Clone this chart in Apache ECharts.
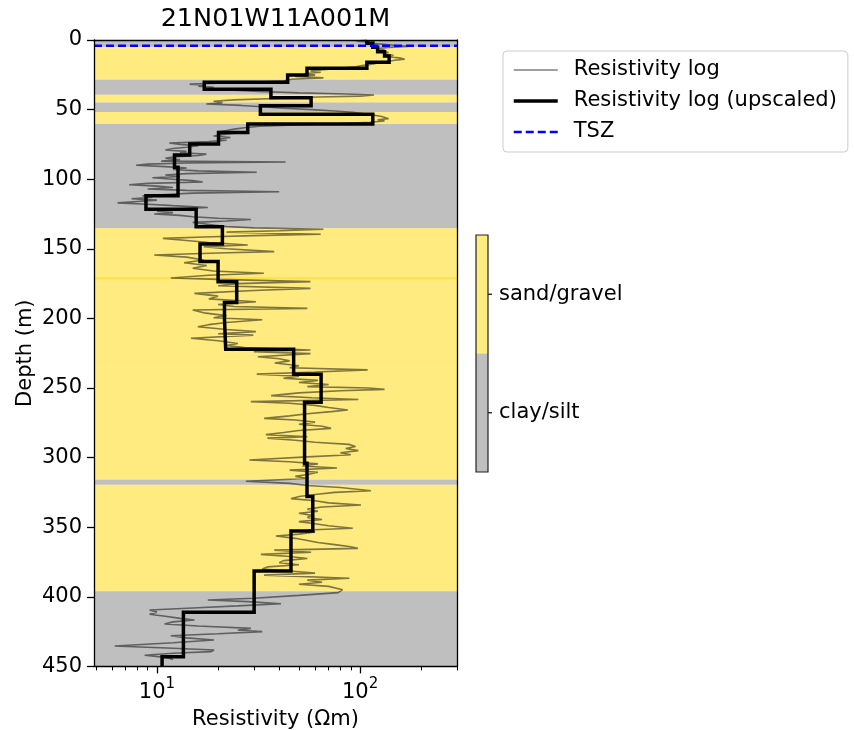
<!DOCTYPE html>
<html>
<head>
<meta charset="utf-8">
<script src="https://cdn.jsdelivr.net/npm/echarts@6/dist/echarts.min.js"></script>
<style>
  html, body { margin: 0; padding: 0; background: #fff; }
  #chart { width: 854px; height: 730px; }
</style>
</head>
<body>
<div id="chart"></div>
<script>
// Well identifier
const wellName = '21N01W11A001M';

// Resistivity axis range (Ωm) and depth range (m)
const resMin = 4.9;
const resMax = 300;
const depthMax = 450;

// Top of the shallow zone (m)
const tszDepth = 4.1;

// Lithology intervals: top (m), bottom (m), class
const litTop    = [0, 5, 28.6, 39.3, 44.9, 51.7, 60.4, 135.2, 139.5, 170.5, 231.0, 316.0, 319.5, 396.0];
const litBottom = [5, 28.6, 39.3, 44.9, 51.7, 60.4, 135.2, 139.7, 171.9, 231.2, 316.0, 319.5, 396.0, 450];
const litClass  = ['clay/silt', 'sand/gravel', 'clay/silt', 'sand/gravel', 'clay/silt', 'sand/gravel', 'clay/silt',
                   'sand/gravel', 'sand/gravel', 'sand/gravel', 'sand/gravel', 'clay/silt', 'sand/gravel', 'clay/silt'];
const litNames  = ['sand/gravel', 'clay/silt'];

// Raw resistivity log: [depth (m), resistivity (Ωm)]
const rawLog = [
  [0,108],[0.8,96],[1.6,118],[2.4,112],[3.2,135],[4.0,150],[4.6,172],[5.4,138],[6.2,120],[7.0,132],
  [8.0,126],[9.0,138],[10.0,130],[11.0,146],[12.0,140],[13.0,158],[13.8,166],[14.6,148],[15.4,136],[16.3,124],
  [17.2,116],[18.2,104],[19.2,95],[20.2,80],[21.2,68],[22.2,57],[23.2,64],[24.2,53],[25.2,60],[26.2,48],
  [27.2,66],[28.2,46],[29.4,42],[30.4,30],[31.1,20],[31.7,14.5],[32.4,17],[33.2,16],[34.0,19],[35.0,18],
  [36.0,24],[37.0,32],[38.0,50],[38.8,85],[39.5,117],[40.3,100],[41.0,62],[42.0,38],[43.0,24],[44.0,19],
  [45.0,21],[46.0,17.5],[47.0,26],[48.0,33],[49.0,42],[50.0,58],[51.0,75],[52.0,92],[53.0,105],[54.0,118],
  [55.0,128],[56.5,138],[57.3,122],[58.2,132],[59.1,112],[60.0,80],[61.0,48],[62.0,32],[63.0,27],[64.0,24],
  [65.0,22],[66.0,20],[67.0,24],[68.0,21],[69.0,19],[70.0,23],[71.0,20],[72.0,22],[73.0,18],[74.0,11.5],
  [75.0,13],[76.0,16],[77.0,14],[78.0,12],[79.0,11],[80.0,14],[81.0,13],[82.0,17.5],[83.0,16],[84.0,12],
  [85.0,11],[86.0,13],[87.0,10.5],[87.6,43],[88.4,14],[89.2,9],[90.0,7.9],[91.0,11],[92.0,14],[93.0,12],
  [94.0,16],[95.0,31],[96.0,14],[97.0,11],[98.0,13],[99.0,9.5],[100.0,12],[101.0,15],[102.0,16.8],[103.0,9],
  [104.0,7.3],[105.0,10],[106.0,12],[107.0,9],[108.0,14],[109.0,40],[110.0,15],[111.0,11],[112.0,8.5],[113.0,9.5],
  [114.0,7.5],[115.0,10],[116.0,8],[117.0,6.4],[118.0,9],[119.0,12],[120.3,17.8],[121.2,13],[122.0,11],[123.0,10],
  [124.0,12],[125.0,9.7],[126.0,13],[127.0,15],[128.0,20],[129.0,29],[130.0,22],[131.0,15],[132.0,17],[133.0,19],
  [134.0,22],[135.0,30],[136.0,66],[137.0,40],[138.0,22],[139.5,64],[140.5,30],[141.5,17],[142.5,10.7],[144.0,14],
  [145.5,18],[147.3,28],[148.5,17],[150.0,22],[152.0,37.8],[153.0,20],[154.5,9.7],[156.0,14],[158.0,17],[160.0,13.6],
  [162.0,17.6],[164.0,15],[166.0,19],[167.6,33.6],[169.0,18],[171.0,11.7],[172.0,20],[173.6,57],[175.0,25],[176.5,20],
  [178.4,57],[180.0,30],[182.0,15.3],[184.0,20],[186.0,18],[188.0,30.7],[190.0,20],[191.5,24],[192.8,55],[194.0,15],
  [196.0,17],[198.0,22],[199.5,19],[201.0,33],[203.0,22],[204.5,18],[206.0,15.9],[208.0,22],[209.5,30.7],[211.0,20],
  [212.0,29.8],[214.3,14.7],[216.0,20],[218.0,25],[219.5,22],[221.0,27],[222.7,57],[224.0,30],[225.3,57],[227.5,31.4],
  [229.0,40],[230.5,45],[232.0,38],[234.0,50],[235.5,45],[237.0,109],[238.5,60],[240.0,31],[241.5,50],[243.0,42],
  [244.5,62],[246.0,50],[247.5,70],[249.0,55],[250.0,110],[251.0,132],[252.0,80],[253.5,50],[255.5,36.5],[257.0,58],
  [258.3,98],[259.8,29],[261.0,45],[262.5,60],[264.0,70],[265.8,87],[267.0,72],[268.5,55],[270.0,45],[271.8,33.7],
  [273.0,48],[274.5,60],[276.0,50],[277.5,65],[279.0,72],[280.5,50],[282.0,42],[283.5,34.4],[285.0,55],[286.0,35],
  [287.5,48],[289.0,60],[290.5,88],[292.0,95],[293.5,85],[295.0,98],[296.5,80],[298.0,90],[299.5,55],[301.7,28.5],
  [303.0,45],[304.5,62],[306.0,52],[307.5,77],[309.0,45],[310.5,62],[312.0,56],[313.5,48],[315.0,55],[317.0,27.4],
  [318.5,45],[320.0,55],[321.5,80],[323.8,113],[325.0,75],[326.5,60],[328.0,50],[329.5,45.7],[331.0,60],[332.5,70],
  [334.0,101],[335.5,65],[337.0,55],[338.5,62],[340.0,50],[341.5,58],[343.0,55],[344.5,65],[346.0,50],[347.5,60],
  [349.0,70],[350.8,92],[352.0,55],[353.5,60],[355.0,50],[356.3,38.5],[358.0,48],[359.5,55],[361.0,62],[362.5,75],
  [364.0,90],[365.2,97.6],[366.5,37.8],[368.0,57.4],[369.5,32.5],[371.0,45],[372.5,55],[374.0,42],[375.5,40],[377.0,50],
  [378.5,35],[380.0,33],[381.5,45],[383.0,60],[384.4,33.7],[386.7,88.6],[388.0,55],[389.5,65],[391.0,50],[392.5,70],
  [395.0,82],[397.0,78],[399.0,50],[401.0,30],[402.3,17.8],[403.5,28],[405.0,40.8],[406.5,25],[408.0,15],[409.5,9.2],
  [411.0,10],[412.5,9.2],[414.0,11],[415.5,13],[416.7,15.3],[418.0,12],[419.5,10.9],[421.0,16],[422.7,29],[424.0,25],
  [425.0,33],[426.5,20],[428.0,11.7],[429.5,14],[431.0,19.1],[433.0,12],[435.3,6.2],[437.0,12],[438.2,19.1],[439.4,18.5],
  [440.5,12],[442.0,8.7],[443.5,11],[445.0,12]
];

// Upscaled log: layer tops (m) and layer resistivity (Ωm); last layer ends at depthMax
const upTop = [0, 2.4, 5.2, 8.4, 11.5, 16.0, 20.3, 25.1, 30.4, 35.4, 41.4, 47.2, 53.4, 60.3, 66.5, 74.7, 82.6, 91.5,
               111.9, 121.6, 134.1, 146.6, 159.2, 173.6, 188.5, 200.0, 222.2, 240.2, 260.3, 304.0, 328.0, 352.7,
               381.5, 411.1, 443.0];
const upRes = [108, 115.5, 122, 132, 139, 108, 54.8, 44, 17.1, 36.4, 57.4, 32.3, 115.5, 28, 20.1, 14.5, 12.2, 12.7,
               8.83, 15.6, 21, 16.3, 20, 24.7, 21.5, 21.8, 47.1, 64.3, 53.3, 54.8, 58.5, 45.7,
               30.1, 13.5, 10.6];

// Axis ticks (Ωm)
const majorTicks = [10, 100];
const minorTicks = [5, 6, 7, 8, 9, 20, 30, 40, 50, 60, 70, 80, 90, 200, 300];

const FONT = 'DejaVu Sans';
const litFill = { 'sand/gravel': 'rgba(255,215,0,0.5)', 'clay/silt': 'rgba(128,128,128,0.5)' };
const litSolid = { 'sand/gravel': '#ffeb80', 'clay/silt': '#bfbfbf' };
const NO_SYMBOL = { color: 'rgba(0,0,0,0)', borderWidth: 0, opacity: 0 };

const rawStyle = { color: 'rgba(0,0,0,0.5)', width: 1.6 };
const upStyle = { color: '#000', width: 3.5, join: 'miter' };
const tszStyle = { color: '#0000ff', width: 2.5, type: [8, 4] };

const lg = Math.log10;
const xMin = lg(resMin), xMax = lg(resMax);

const rawData = rawLog.map(p => [lg(p[1]), p[0]]);
const upData = [];
upTop.forEach((t, i) => {
  const b = i + 1 < upTop.length ? upTop[i + 1] : depthMax;
  upData.push([lg(upRes[i]), t], [lg(upRes[i]), b]);
});

const bands = litTop.map((t, i) => [
  { yAxis: t, itemStyle: { color: litFill[litClass[i]] } },
  { yAxis: litBottom[i] }
]);

const chart = echarts.init(document.getElementById('chart'), null, { renderer: 'canvas' });

// colour bar for the lithology classes
const cbX = 476, cbY = 235, cbW = 12, cbH = 237;
const cbGraphic = [];
litNames.forEach((name, i) => {
  const y0 = cbY + i * cbH / litNames.length;
  cbGraphic.push({
    type: 'rect', silent: true,
    shape: { x: cbX, y: y0, width: cbW, height: cbH / litNames.length },
    style: { fill: litSolid[name] }
  });
  const yc = y0 + cbH / litNames.length / 2;
  cbGraphic.push({
    type: 'line', silent: true,
    shape: { x1: cbX + cbW, y1: yc, x2: cbX + cbW + 4, y2: yc },
    style: { stroke: '#000', lineWidth: 1.2 }
  });
  cbGraphic.push({
    type: 'text', silent: true, x: cbX + cbW + 11, y: yc,
    style: { text: name, font: '21px "' + FONT + '"', fill: '#000', verticalAlign: 'middle', align: 'left' }
  });
});
cbGraphic.push({
  type: 'rect', silent: true,
  shape: { x: cbX, y: cbY, width: cbW, height: cbH },
  style: { fill: 'none', stroke: '#222', lineWidth: 1.2 }
});

const option = {
  animation: false,
  backgroundColor: '#fff',
  title: {
    text: wellName,
    left: 275.5,
    top: 6,
    padding: 0,
    textAlign: 'center',
    textStyle: { fontFamily: FONT, fontSize: 25.5, fontWeight: 'normal', color: '#000' }
  },
  grid: { left: 94, top: 40, width: 363, height: 626.4, containLabel: false, outerBoundsMode: 'none' },
  legend: {
    orient: 'vertical',
    left: 503,
    top: 51,
    itemWidth: 44,
    itemHeight: 14,
    itemGap: 9,
    padding: [8, 11, 9, 9],
    borderColor: '#cccccc',
    borderWidth: 1,
    borderRadius: 4,
    backgroundColor: 'rgba(255,255,255,0.8)',
    itemStyle: NO_SYMBOL,
    textStyle: { fontFamily: FONT, fontSize: 21, color: '#000', lineHeight: 22, padding: [0, 0, 0, 11] },
    data: [
      { name: 'Resistivity log', lineStyle: rawStyle },
      { name: 'Resistivity log (upscaled)', lineStyle: upStyle },
      { name: 'TSZ', lineStyle: tszStyle }
    ]
  },
  xAxis: [
    {
      type: 'value', min: xMin, max: xMax, position: 'bottom', z: 10,
      name: 'Resistivity (\u03a9m)', nameLocation: 'middle', nameGap: 43,
      nameTextStyle: { fontFamily: FONT, fontSize: 21, color: '#000' },
      axisLine: { show: true, onZero: false, lineStyle: { color: '#000', width: 1.3 } },
      axisTick: { show: true, length: 7, customValues: majorTicks.map(lg), lineStyle: { color: '#000', width: 1.3 } },
      axisLabel: {
        show: true, margin: 10, customValues: majorTicks.map(lg),
        formatter: v => '{b|10}{s|' + Math.round(v) + '}',
        rich: {
          b: { fontFamily: FONT, fontSize: 21, color: '#000', verticalAlign: 'bottom', lineHeight: 27 },
          s: { fontFamily: FONT, fontSize: 15, color: '#000', verticalAlign: 'top', lineHeight: 15 }
        }
      },
      splitLine: { show: false }
    },
    {
      type: 'value', min: xMin, max: xMax, position: 'bottom', z: 10,
      axisLine: { show: false, onZero: false },
      axisTick: { show: true, length: 4, customValues: minorTicks.map(lg), lineStyle: { color: '#000', width: 1 } },
      axisLabel: { show: false },
      splitLine: { show: false }
    },
    {
      type: 'value', min: xMin, max: xMax, position: 'top', z: 10,
      axisLine: { show: true, onZero: false, lineStyle: { color: '#000', width: 1.3 } },
      axisTick: { show: false }, axisLabel: { show: false }, splitLine: { show: false }
    }
  ],
  yAxis: [
    {
      type: 'value', min: 0, max: depthMax, interval: 50, inverse: true, position: 'left', z: 10,
      name: 'Depth (m)', nameLocation: 'middle', nameGap: 58,
      nameTextStyle: { fontFamily: FONT, fontSize: 21, color: '#000' },
      axisLine: { show: true, onZero: false, lineStyle: { color: '#000', width: 1.3 } },
      axisTick: { show: true, length: 7, lineStyle: { color: '#000', width: 1.3 } },
      axisLabel: { fontFamily: FONT, fontSize: 21, color: '#000', margin: 12 },
      splitLine: { show: false }
    },
    {
      type: 'value', min: 0, max: depthMax, inverse: true, position: 'right', z: 10,
      axisLine: { show: true, onZero: false, lineStyle: { color: '#000', width: 1.3 } },
      axisTick: { show: false }, axisLabel: { show: false }, splitLine: { show: false }
    }
  ],
  graphic: cbGraphic,
  series: [
    {
      name: 'Resistivity log', type: 'line', xAxisIndex: 0, yAxisIndex: 0,
      data: rawData, symbol: 'none', showSymbol: false, silent: true,
      lineStyle: rawStyle,
      itemStyle: NO_SYMBOL,
      markArea: { silent: true, z: 1, data: bands }
    },
    {
      name: 'Resistivity log (upscaled)', type: 'line', xAxisIndex: 0, yAxisIndex: 0,
      data: upData, symbol: 'none', showSymbol: false, silent: true,
      lineStyle: upStyle,
      itemStyle: NO_SYMBOL
    },
    {
      name: 'TSZ', type: 'line', xAxisIndex: 0, yAxisIndex: 0,
      data: [[xMin, tszDepth], [xMax, tszDepth]], symbol: 'none', showSymbol: false, silent: true,
      lineStyle: tszStyle,
      itemStyle: NO_SYMBOL
    }
  ]
};

chart.setOption(option);
</script>
</body>
</html>
